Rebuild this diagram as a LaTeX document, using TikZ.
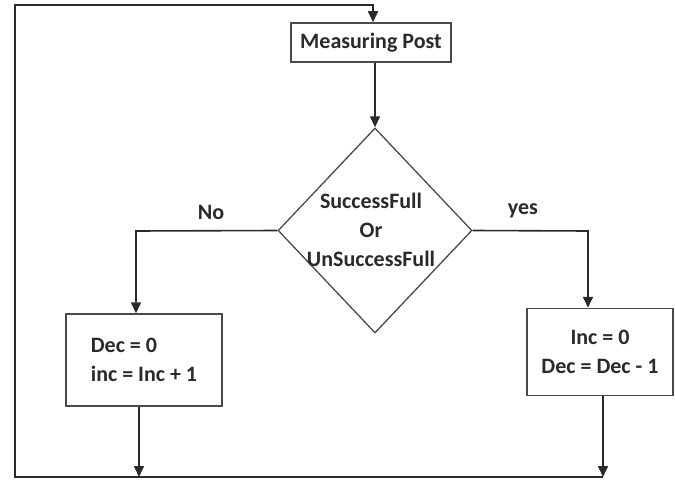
\documentclass[tikz,border=0pt]{standalone}
\usepackage{fontspec}
\setmainfont{Carlito}
\usetikzlibrary{shapes.geometric,arrows.meta}
\definecolor{ink}{HTML}{2A2A2A}
\definecolor{edge}{HTML}{4A4A4A}
\begin{document}
\begin{tikzpicture}[x=1pt,y=-1pt,
  txt/.style={font=\fontsize{22}{29}\selectfont\bfseries, text=ink},
  procbox/.style={draw=edge, line width=1.5pt, rectangle, inner sep=0pt, txt},
  conn/.style={draw=ink, line width=1.6pt},
  arr/.style={conn, -{Triangle[length=11pt,width=10pt]}},
  decision/.style={draw=edge, line width=1.3pt, diamond, inner sep=0pt, minimum width=194pt, minimum height=205pt}
]
\useasboundingbox (0,0) rectangle (675,484);
% nodes
\node[procbox, minimum width=160pt, minimum height=39pt] (mp) at (371,42.5) {Measuring Post};
\node[decision] (dec) at (375,230.5) {};
\node[txt, align=center] (dect) at (371,230) {SuccessFull\\Or\\UnSuccessFull};
\node[procbox, minimum width=156pt, minimum height=92pt, align=left] (lb) at (144,360) {Dec = 0\\inc = Inc + 1};
\node[procbox, minimum width=146pt, minimum height=87pt, align=center] (rb) at (600,352) {Inc = 0\\Dec = Dec - 1};
\node[txt] (no) at (211,212) {No};
\node[txt] (yes) at (523,211) {yes};
% coordinates
\coordinate (lt) at (136,231);
\coordinate (rt) at (588,231);
\coordinate (lbot) at (139,477);
\coordinate (rbot) at (603,477);
\coordinate (cbl) at (15,477);
\coordinate (ctl) at (15,5);
\coordinate (ctm) at (373,5);
% connectors
\draw[arr] (mp.south -| dec.north) -- (dec.north);
\draw[arr] (dec.west) -- (lt) -- (lt |- lb.north);
\draw[arr] (dec.east) -- (rt) -- (rt |- rb.north);
\draw[arr] (lb.south -| lbot) -- (lbot);
\draw[arr] (rb.south -| rbot) -- (rbot);
\draw[arr] (rbot) -- (cbl) -- (ctl) -- (ctm) -- (ctm |- mp.north);
\end{tikzpicture}
\end{document}
